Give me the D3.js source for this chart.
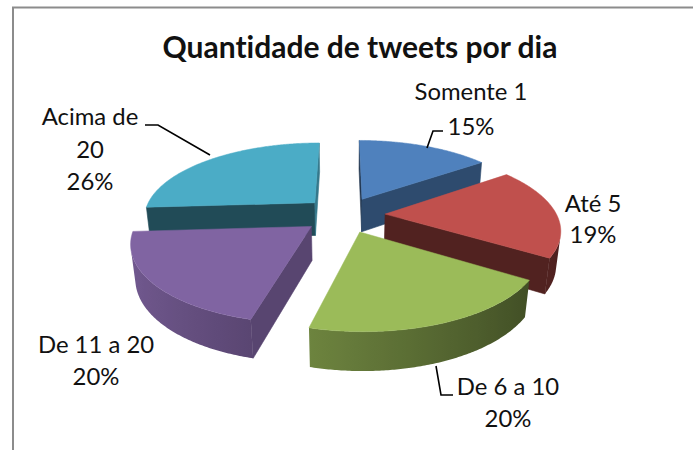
<!DOCTYPE html>
<html>
<head>
<meta charset="utf-8">
<script src="https://cdn.jsdelivr.net/npm/d3@7"></script>
<style>
  body { margin: 0; background: #fff; }
  svg { display: block; }
  text { font-family: Lato, "Open Sans", sans-serif; fill: #111; font-variant-ligatures: none; }
</style>
</head>
<body>
<div id="chart"></div>
<script>
// data
const categories = ["Somente 1", "Até 5", "De 6 a 10", "De 11 a 20", "Acima de 20"];
const percents = [15, 19, 20, 20, 26];
const labelLines = [["Somente 1"], ["Até 5"], ["De 6 a 10"], ["De 11 a 20"], ["Acima de", "20"]];
const title = "Quantidade de tweets por dia";

const colors = ["#4F81BD", "#C0504D", "#9BBB59", "#8064A2", "#4BACC6"];

// where excel put the labels + leaders (layout only)
const labelLayout = [
  {x: 471, y: 100, lh: 35, leader: [[443, 131], [433, 131], [427, 148]]},
  {x: 593, y: 212, lh: 31, leader: null},
  {x: 508, y: 395, lh: 32, leader: [[436, 366], [441, 395], [453, 395]]},
  {x: 96,  y: 353, lh: 32, leader: null},
  {x: 90,  y: 125, lh: 32.5, leader: [[145, 125], [158, 125], [210, 155]]}
];

const width = 693, height = 450;

const svg = d3.select("#chart").append("svg")
    .attr("width", width)
    .attr("height", height);

svg.append("rect")
    .attr("x", 13).attr("y", 7.5)
    .attr("width", width + 20).attr("height", height + 20)
    .attr("fill", "#fff")
    .attr("stroke", "#8c8c8c")
    .attr("stroke-width", 2);

// simple perspective camera looking down on the pie
const cx = 344, cy = 248, F = 840, L = 5,
      phi = 28 * Math.PI / 180, thick = 0.22, explode = 0.24;
const sp = Math.sin(phi), cp = Math.cos(phi);
const camPos = [0, L * sp, L * cp];

function project(x, y, z) {
  const d = L - z * cp - y * sp;
  return [cx + F * x / d, cy + F * (z * sp - y * cp) / d];
}
function facing(n, p) {
  return n[0] * (camPos[0] - p[0]) + n[1] * (camPos[1] - p[1]) + n[2] * (camPos[2] - p[2]) > 0;
}
const shade = (c, k) => d3.interpolateRgb("#000", c)(k);
const line = d3.line();

const arcs = d3.pie().sort(null).value(d => d.value)(
  categories.map((c, i) => ({name: c, value: percents[i], color: colors[i], lines: labelLines[i], layout: labelLayout[i]}))
);

const slices = arcs.map(d => {
  const mid = (d.startAngle + d.endAngle) / 2;
  return Object.assign({}, d, {mid: mid, ox: explode * Math.sin(mid), oz: -explode * Math.cos(mid)});
}).sort((a, b) => a.oz - b.oz);

const defs = svg.append("defs");

slices.forEach((s, si) => {
  const g = svg.append("g").attr("class", "slice");
  const base = s.data.color;
  const rim = a => [s.ox + Math.sin(a), s.oz - Math.cos(a)];
  const n = Math.max(8, Math.ceil((s.endAngle - s.startAngle) / 0.01));
  const angles = d3.range(n + 1).map(i => s.startAngle + (s.endAngle - s.startAngle) * i / n);

  // flat radial faces
  [[s.startAngle, [-Math.cos(s.startAngle), 0, -Math.sin(s.startAngle)]],
   [s.endAngle, [Math.cos(s.endAngle), 0, Math.sin(s.endAngle)]]].forEach(([a, nrm]) => {
    const [rx, rz] = rim(a);
    const p = [(rx + s.ox) / 2, thick / 2, (rz + s.oz) / 2];
    if (!facing(nrm, p)) return;
    const pts = [project(s.ox, thick, s.oz), project(rx, thick, rz), project(rx, 0, rz), project(s.ox, 0, s.oz)];
    const col = shade(base, 0.42 + 0.28 * Math.max(0, nrm[0]));
    g.append("path").attr("d", line(pts) + "Z")
        .attr("fill", col).attr("stroke", col).attr("stroke-width", 0.6);
  });

  // curved outer face
  const vis = angles.filter(a => {
    const [rx, rz] = rim(a);
    return facing([Math.sin(a), 0, -Math.cos(a)], [rx, thick / 2, rz]);
  });
  if (vis.length > 1) {
    const top = vis.map(a => { const [rx, rz] = rim(a); return project(rx, thick, rz); });
    const bot = vis.map(a => { const [rx, rz] = rim(a); return project(rx, 0, rz); }).reverse();
    const xs = top.map(p => p[0]);
    const x0 = d3.min(xs), x1 = d3.max(xs);
    const gid = "side" + si;
    const grad = defs.append("linearGradient").attr("id", gid)
        .attr("gradientUnits", "userSpaceOnUse")
        .attr("x1", x0).attr("x2", x1).attr("y1", 0).attr("y2", 0);
    const stops = vis.filter((a, i) => i % 4 === 0 || i === vis.length - 1)
        .map(a => {
          const [rx, rz] = rim(a);
          const X = project(rx, thick, rz)[0];
          return {o: x1 > x0 ? (X - x0) / (x1 - x0) : 0, c: shade(base, 0.64 - 0.26 * Math.sin(a))};
        })
        .sort((a, b) => a.o - b.o);
    grad.selectAll("stop").data(stops).enter().append("stop")
        .attr("offset", d => d.o).attr("stop-color", d => d.c);
    g.append("path").attr("d", line(top.concat(bot)) + "Z")
        .attr("fill", "url(#" + gid + ")");
  }

  // top face
  const topPts = [project(s.ox, thick, s.oz)].concat(angles.map(a => {
    const [rx, rz] = rim(a);
    return project(rx, thick, rz);
  }));
  g.append("path").attr("d", line(topPts) + "Z")
      .attr("fill", base).attr("stroke", base).attr("stroke-width", 0.5);
});

// title
const t = svg.append("text")
    .attr("x", 360).attr("y", 58)
    .attr("text-anchor", "middle")
    .style("font-weight", "bold")
    .style("font-size", "28px")
    .text(title);
const tw = t.node().getComputedTextLength();
t.style("font-size", (28 * 395 / tw) + "px");

// label font size fitted on "Somente 1"
const probe = svg.append("text").style("font-size", "24px").text(categories[0]);
const labelSize = 24 * 113 / probe.node().getComputedTextLength();
probe.remove();

arcs.forEach(d => {
  const lay = d.data.layout;
  const lines = d.data.lines.concat([d.data.value + "%"]);
  const txt = svg.append("text")
      .attr("text-anchor", "middle")
      .style("font-size", labelSize + "px");
  lines.forEach((l, i) => {
    txt.append("tspan").attr("x", lay.x).attr("y", lay.y + i * lay.lh).text(l);
  });
  if (lay.leader) {
    svg.append("path")
        .attr("d", line(lay.leader))
        .attr("fill", "none")
        .attr("stroke", "#000")
        .attr("stroke-width", 1.6);
  }
});
</script>
</body>
</html>
